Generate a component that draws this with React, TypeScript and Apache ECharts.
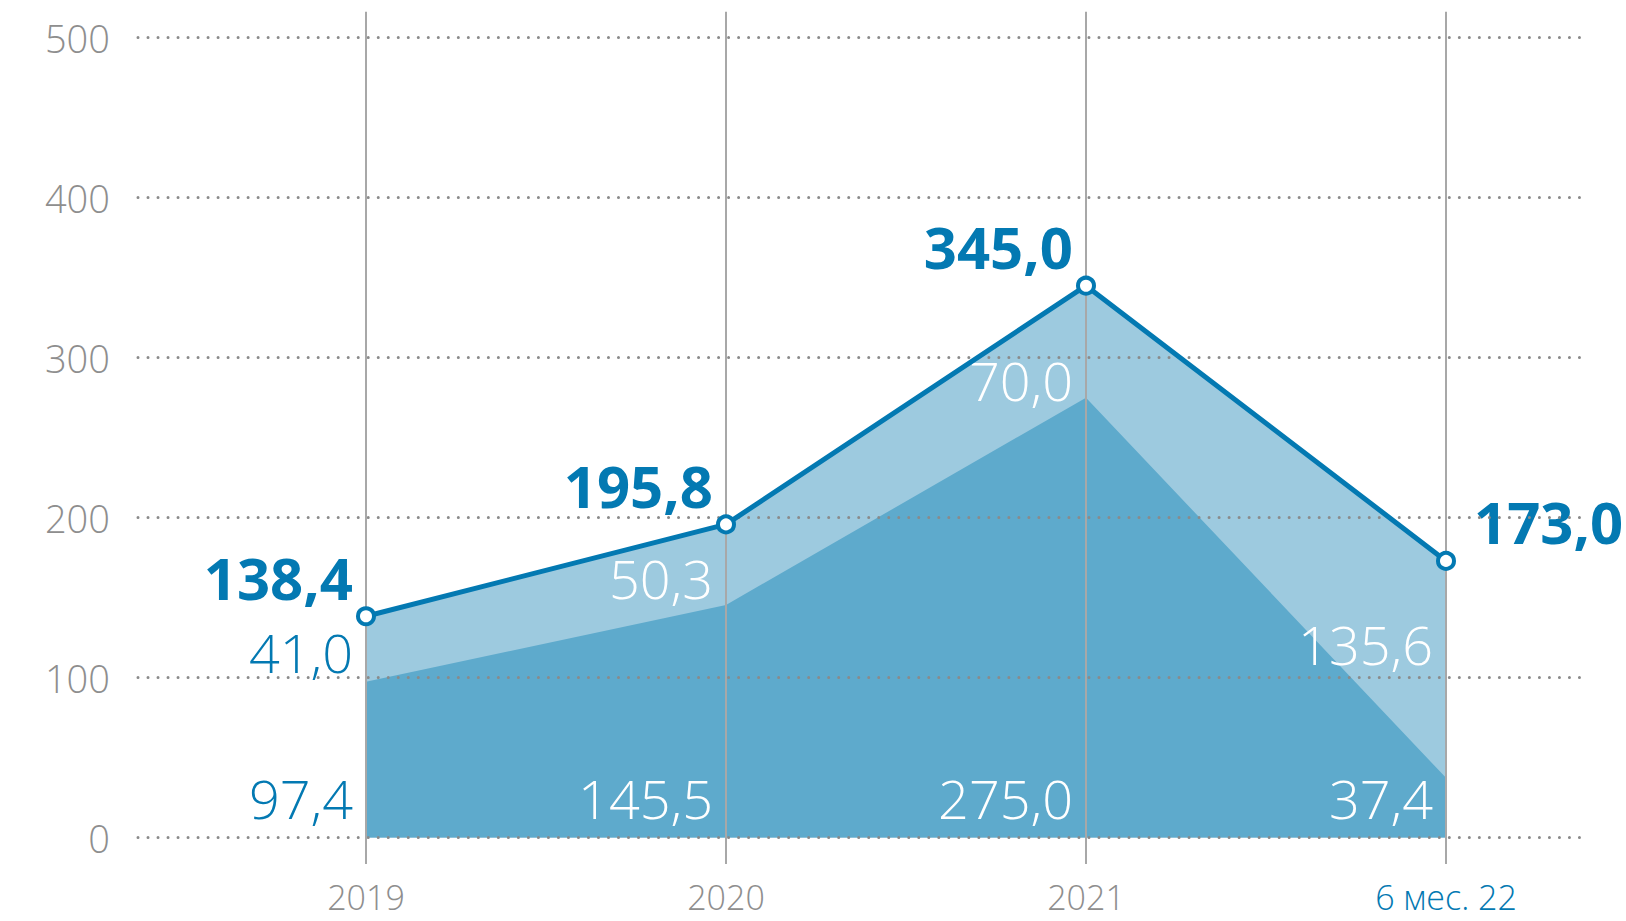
import React, { useEffect, useRef } from "react";
import * as echarts from "echarts";

const categories = ["2019", "2020", "2021", "6 мес. 22"];
const baseValues = [97.4, 145.5, 275.0, 37.4];
const addValues = [41.0, 50.3, 70.0, 135.6];
const totals = [138.4, 195.8, 345.0, 173.0];
const yMin = 0;
const yMax = 500;
const yStep = 100;

const BLUE = "#0379B2";
const DARK_AREA = "#5EAACC";
const LIGHT_AREA = "#9DCADF";
const GRAY = "#8e8e8e";
const FONT = "'Open Sans', 'Noto Sans', sans-serif";

const fmt = (v: number) => v.toFixed(1).replace(".", ",");

export default function App() {
  const ref = useRef<HTMLDivElement>(null);

  useEffect(() => {
    document.body.style.margin = "0";
    if (!ref.current) return;
    const chart = echarts.init(ref.current, undefined, { renderer: "svg" });

    const xy = (arr: number[]) => arr.map((v, i) => [i, v]);
    const midOffsets = [36, 53.5, 94.5, 83];
    const midColors = [BLUE, "#fff", "#fff", "#fff"];
    const bottomColors = [BLUE, "#fff", "#fff", "#fff"];
    const hidden = { color: "rgba(0,0,0,0)", opacity: 1 };

    const option: any = {
      animation: false,
      backgroundColor: "#fff",
      grid: [
        { left: 138, right: 45, top: 37.7, bottom: 921 - 837.7 },
        { left: 366, right: 180, top: 11.7, bottom: 57 },
      ],
      xAxis: [
        {
          type: "value",
          gridIndex: 0,
          min: -0.6333,
          max: 3.375,
          show: false,
        },
        {
          type: "category",
          gridIndex: 1,
          data: categories,
          boundaryGap: false,
          z: 3,
          axisLine: { show: false },
          axisTick: { show: false },
          splitLine: { show: true, lineStyle: { color: "#a8a8a8", width: 2, type: "solid" } },
          axisLabel: {
            margin: 19,
            formatter: (v: string, i: number) => (i === categories.length - 1 ? `{b|${v}}` : `{a|${v}}`),
            rich: {
              a: { fontSize: 34, lineHeight: 28, color: GRAY, fontFamily: FONT, fontWeight: 300 },
              b: { fontSize: 34, lineHeight: 28, color: BLUE, fontFamily: FONT, fontWeight: 300 },
            },
          },
        },
      ],
      yAxis: [
        {
          type: "value",
          gridIndex: 0,
          min: yMin,
          max: yMax,
          interval: yStep,
          z: 3,
          axisLine: { show: false },
          axisTick: { show: false },
          axisLabel: { fontSize: 38, color: GRAY, margin: 28, fontFamily: FONT, fontWeight: 300 },
          splitLine: {
            show: true,
            lineStyle: { color: "#8a8a8a", width: 3, type: [0.01, 10], cap: "round" },
          },
        },
        { type: "value", gridIndex: 1, min: 0, max: 1, show: false },
      ],
      series: [
        {
          name: "totalArea",
          type: "line",
          xAxisIndex: 0,
          yAxisIndex: 0,
          data: xy(totals),
          showSymbol: false,
          symbol: "none",
          lineStyle: { width: 0 },
          areaStyle: { color: LIGHT_AREA, opacity: 1 },
          z: 1,
        },
        {
          name: "base",
          type: "line",
          xAxisIndex: 0,
          yAxisIndex: 0,
          data: xy(baseValues),
          showSymbol: false,
          symbol: "none",
          lineStyle: { width: 0 },
          areaStyle: { color: DARK_AREA, opacity: 1 },
          z: 1,
        },
        {
          name: "bottomLabels",
          type: "scatter",
          xAxisIndex: 0,
          yAxisIndex: 0,
          symbolSize: 1,
          itemStyle: hidden,
          z: 2,
          data: baseValues.map((v, i) => ({
            value: [i, 0],
            label: {
              show: true,
              position: "inside",
              align: "right",
              verticalAlign: "middle",
              offset: [-13, -40],
              formatter: fmt(v),
              fontSize: 54,
              fontFamily: FONT,
              fontWeight: 300,
              color: bottomColors[i],
            },
          })),
        },
        {
          name: "midLabels",
          type: "scatter",
          xAxisIndex: 0,
          yAxisIndex: 0,
          symbolSize: 1,
          itemStyle: hidden,
          z: 2,
          data: addValues.map((v, i) => ({
            value: [i, totals[i]],
            label: {
              show: true,
              position: "inside",
              align: "right",
              verticalAlign: "middle",
              offset: [-13, midOffsets[i]],
              formatter: fmt(v),
              fontSize: 54,
              fontFamily: FONT,
              fontWeight: 300,
              color: midColors[i],
            },
          })),
        },
        {
          name: "totalLabels",
          type: "scatter",
          xAxisIndex: 0,
          yAxisIndex: 0,
          symbolSize: 1,
          itemStyle: hidden,
          z: 2,
          data: totals.map((v, i) => {
            const last = i === totals.length - 1;
            return {
              value: [i, v],
              label: {
                show: true,
                position: "inside",
                align: last ? "left" : "right",
                verticalAlign: "middle",
                offset: last ? [28, -39] : [-13, -39],
                formatter: fmt(v),
                fontSize: 58,
                fontFamily: FONT,
                fontWeight: "bold",
                color: BLUE,
              },
            };
          }),
        },
        {
          name: "total",
          type: "line",
          xAxisIndex: 0,
          yAxisIndex: 0,
          data: xy(totals),
          symbol: "circle",
          symbolSize: 16,
          showSymbol: true,
          lineStyle: { color: BLUE, width: 5 },
          itemStyle: { color: "#fff", borderColor: BLUE, borderWidth: 4 },
          z: 5,
        },
      ],
    };

    chart.setOption(option);
    return () => chart.dispose();
  }, []);

  return <div ref={ref} style={{ width: 1626, height: 921 }} />;
}
